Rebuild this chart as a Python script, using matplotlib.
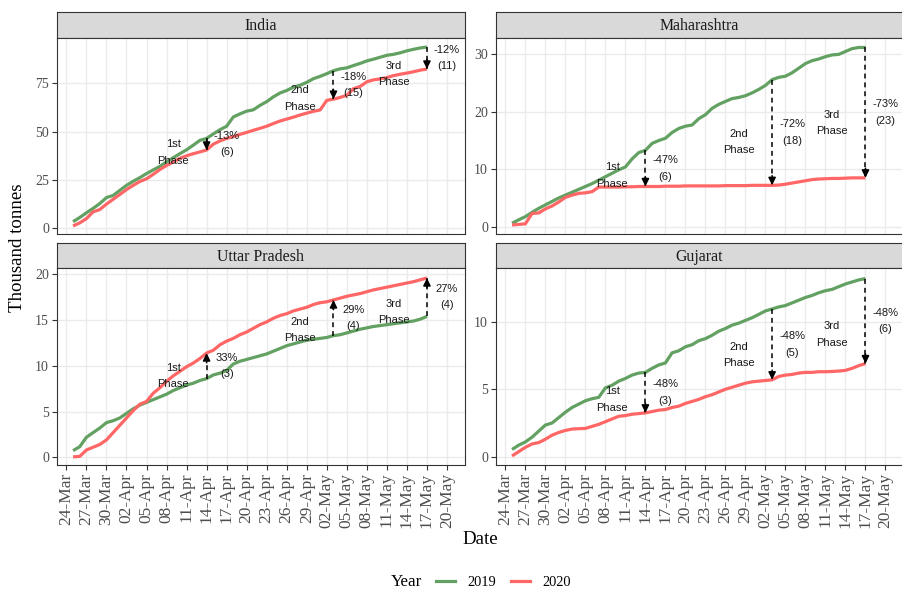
import matplotlib
matplotlib.use("Agg")
import matplotlib.pyplot as plt
import matplotlib.dates as mdates
from matplotlib.ticker import MultipleLocator
import numpy as np
import pandas as pd

# ---------------------------------------------------------------- data
dates = pd.date_range("2020-03-25", "2020-05-17", freq="D")

india_2019 = [3.4, 5.6, 8.0, 10.3, 12.8, 15.9, 17.0, 19.6, 22.2, 24.3,
              26.2, 28.3, 30.2, 32.0, 34.4, 36.5, 38.6, 40.6, 43.0, 45.5,
              46.5, 48.8, 51.0, 52.8, 57.6, 59.2, 60.6, 61.3, 63.6, 65.5,
              68.0, 70.0, 71.3, 73.0, 74.0, 75.5, 77.4, 78.6, 80.0, 81.5,
              82.5, 83.0, 84.2, 85.3, 86.6, 87.5, 88.5, 89.5, 90.0, 90.8,
              91.8, 92.6, 93.3, 93.8]
india_2020 = [1.2, 2.8, 5.0, 8.5, 9.7, 12.5, 15.0, 17.5, 20.0, 22.2,
              24.2, 25.6, 27.9, 30.4, 32.5, 34.3, 36.2, 37.5, 38.6, 39.5,
              40.5, 43.5, 45.2, 46.5, 47.4, 48.6, 49.6, 50.7, 51.7, 52.8,
              54.2, 55.5, 56.5, 57.5, 58.6, 59.6, 60.5, 61.2, 66.2, 66.8,
              67.7, 68.8, 72.2, 73.4, 75.8, 76.8, 77.3, 78.0, 79.0, 79.7,
              80.3, 81.0, 81.8, 82.4]

maha_2019 = [0.6, 1.2, 1.75, 2.5, 3.2, 3.8, 4.4, 5.0, 5.5, 6.0,
             6.5, 7.0, 7.5, 8.1, 8.7, 9.3, 9.9, 10.4, 11.8, 12.9,
             13.3, 14.5, 15.0, 15.4, 16.4, 17.1, 17.5, 17.7, 18.8, 19.5,
             20.6, 21.3, 21.8, 22.3, 22.5, 22.8, 23.3, 23.9, 24.6, 25.6,
             26.0, 26.2, 26.8, 27.6, 28.4, 28.9, 29.2, 29.6, 29.9, 30.0,
             30.5, 31.0, 31.2, 31.2]
maha_2020 = [0.3, 0.4, 0.5, 2.3, 2.4, 3.1, 3.6, 4.3, 5.1, 5.5,
             5.8, 5.9, 6.1, 6.9, 6.9, 6.9, 6.9, 6.95, 6.95, 7.0,
             7.0, 7.0, 7.0, 7.05, 7.05, 7.05, 7.1, 7.1, 7.1, 7.1,
             7.1, 7.1, 7.15, 7.15, 7.15, 7.15, 7.2, 7.2, 7.2, 7.2,
             7.25, 7.4, 7.6, 7.8, 8.0, 8.2, 8.3, 8.35, 8.4, 8.4,
             8.45, 8.5, 8.5, 8.5]

up_2019 = [0.73, 1.16, 2.19, 2.7, 3.2, 3.79, 4.0, 4.3, 4.8, 5.3,
           5.7, 6.0, 6.3, 6.6, 6.9, 7.3, 7.6, 7.9, 8.1, 8.4,
           8.6, 9.0, 9.2, 9.5, 10.2, 10.5, 10.7, 10.9, 11.1, 11.3,
           11.6, 11.9, 12.2, 12.4, 12.6, 12.8, 12.9, 13.0, 13.1, 13.3,
           13.4, 13.6, 13.8, 14.0, 14.15, 14.3, 14.4, 14.5, 14.6, 14.7,
           14.8, 14.9, 15.1, 15.4]
up_2020 = [0.05, 0.1, 0.8, 1.1, 1.4, 1.9, 2.7, 3.5, 4.3, 5.1,
           5.8, 6.1, 7.0, 7.6, 8.3, 8.9, 9.4, 9.9, 10.3, 10.8,
           11.4, 11.7, 12.3, 12.7, 13.0, 13.4, 13.7, 14.1, 14.5, 14.8,
           15.2, 15.5, 15.7, 16.0, 16.2, 16.4, 16.7, 16.9, 17.0, 17.2,
           17.4, 17.6, 17.75, 17.9, 18.1, 18.3, 18.45, 18.6, 18.75, 18.9,
           19.05, 19.2, 19.4, 19.6]

guj_2019 = [0.54, 0.86, 1.1, 1.45, 1.9, 2.35, 2.5, 2.9, 3.3, 3.65,
            3.9, 4.15, 4.3, 4.4, 5.1, 5.3, 5.6, 5.8, 6.05, 6.2,
            6.25, 6.55, 6.8, 6.95, 7.7, 7.85, 8.15, 8.3, 8.6, 8.75,
            9.0, 9.3, 9.5, 9.75, 9.9, 10.1, 10.3, 10.55, 10.8, 10.95,
            11.1, 11.2, 11.4, 11.6, 11.8, 11.95, 12.15, 12.3, 12.4, 12.6,
            12.8, 12.95, 13.1, 13.2]
guj_2020 = [0.06, 0.38, 0.7, 0.95, 1.05, 1.3, 1.6, 1.8, 1.95, 2.05,
            2.08, 2.1, 2.25, 2.4, 2.6, 2.8, 3.0, 3.05, 3.15, 3.2,
            3.25, 3.35, 3.45, 3.5, 3.65, 3.75, 3.95, 4.1, 4.25, 4.45,
            4.6, 4.8, 5.0, 5.15, 5.3, 5.45, 5.55, 5.6, 5.65, 5.7,
            5.95, 6.05, 6.1, 6.2, 6.25, 6.25, 6.3, 6.3, 6.32, 6.35,
            6.4, 6.55, 6.75, 6.9]

states = ["India", "Maharashtra", "Uttar Pradesh", "Gujarat"]
series_2019 = [india_2019, maha_2019, up_2019, guj_2019]
series_2020 = [india_2020, maha_2020, up_2020, guj_2020]

# end of each lockdown phase
phase_ends = pd.to_datetime(["2020-04-14", "2020-05-03", "2020-05-17"])
phase_names = ["1st\nPhase", "2nd\nPhase", "3rd\nPhase"]
phase_label_y = [[39.3, 67.1, 79.9],
                 [8.9, 14.7, 18.0],
                 [8.9, 13.9, 15.9],
                 [4.24, 7.53, 9.07]]

tick_dates = pd.date_range("2020-03-24", "2020-05-20", freq="3D")

# ---------------------------------------------------------------- style
W, H = 903, 592
COL_2019 = "#62A162"
COL_2020 = "#FF6666"
SERIF = "Liberation Serif"
SANS = "Liberation Sans"
DARK = "#333333"

fig = plt.figure(figsize=(W / 100, H / 100), dpi=100)


def px_axes(x0, y0, x1, y1):
    return fig.add_axes([x0 / W, 1 - y1 / H, (x1 - x0) / W, (y1 - y0) / H])


cols = [(56.7, 465.0), (495.7, 903.5)]
rows = [((12.0, 37.7), (37.7, 234.0)), ((242.7, 268.3), (268.3, 465.0))]
ylims = [(-2.95, 98.6), (-1.27, 32.9), (-0.84, 20.66), (-0.61, 13.96)]
ysteps = [25, 10, 5, 5]

xnum = mdates.date2num(dates.to_pydatetime())
d0 = mdates.date2num(pd.Timestamp("2020-03-24").to_pydatetime())

for i, state in enumerate(states):
    r, c = divmod(i, 2)
    (sy0, sy1), (py0, py1) = rows[r]
    x0, x1 = cols[c]

    # facet strip
    sax = px_axes(x0, sy0, x1, sy1)
    sax.set_facecolor("#D9D9D9")
    sax.set_xticks([])
    sax.set_yticks([])
    for sp in sax.spines.values():
        sp.set_color(DARK)
        sp.set_linewidth(0.8)
    sax.text(0.5, 0.45, state, transform=sax.transAxes, ha="center",
             va="center", fontsize=11.4, family=SERIF, color="#1A1A1A")

    ax = px_axes(x0, py0, x1, py1)
    g = np.array(series_2019[i])
    rd = np.array(series_2020[i])
    ax.plot(xnum, g, color=COL_2019, lw=2.3, solid_capstyle="butt", zorder=3)
    ax.plot(xnum, rd, color=COL_2020, lw=2.3, solid_capstyle="butt", zorder=3)

    ax.set_xlim(d0 - 1.45, d0 + 59.7)
    ax.set_ylim(*ylims[i])
    ax.set_xticks(mdates.date2num(tick_dates.to_pydatetime()))
    ax.xaxis.set_major_formatter(mdates.DateFormatter("%d-%b"))
    ax.yaxis.set_major_locator(MultipleLocator(ysteps[i]))
    ax.grid(True, color="#EBEBEB", lw=1.0)
    ax.set_axisbelow(True)
    for sp in ax.spines.values():
        sp.set_color(DARK)
        sp.set_linewidth(0.8)
    ax.tick_params(axis="y", length=3.5, width=0.8, color=DARK, pad=2,
                   labelsize=10, labelcolor="#4D4D4D")
    for lab in ax.get_yticklabels():
        lab.set_family(SERIF)
    if r == 0:
        ax.tick_params(axis="x", length=0, labelbottom=False)
    else:
        ax.tick_params(axis="x", length=3.5, width=0.8, color=DARK, pad=2,
                       labelsize=12.5, labelcolor="#4D4D4D", labelrotation=90)
        for lab in ax.get_xticklabels():
            lab.set_family(SERIF)

    # change at the end of each lockdown phase
    for k, pe in enumerate(phase_ends):
        j = int(np.where(dates == pe)[0][0])
        xp = xnum[j]
        gv, rv = g[j], rd[j]
        ax.plot([xp, xp], [gv, rv], color="black", lw=1.1,
                ls=(0, (3.2, 2.6)), zorder=4)
        off = 7 if gv > rv else -7
        ax.annotate("", xy=(xp, rv), xytext=(0, off),
                    textcoords="offset points",
                    arrowprops=dict(arrowstyle="-|>,head_length=0.45,head_width=0.22",
                                    lw=1.1, color="black", shrinkA=0, shrinkB=0),
                    zorder=5)
        pct = int(round((rv / gv - 1) * 100))
        diff = int(round(abs(gv - rv)))
        ax.text(xp + 3, (gv + rv) / 2, f"{pct}%\n({diff})", ha="center",
                va="center", fontsize=8, family=SANS, linespacing=1.8,
                color="#1A1A1A", zorder=6)
        ax.text(xp - 5, phase_label_y[i][k], phase_names[k], ha="center",
                va="center", fontsize=8, family=SANS, linespacing=1.8,
                color="#1A1A1A", zorder=6)

fig.text(18 / W, 1 - 248 / H, "Thousand tonnes", rotation=90, ha="center",
         va="center", fontsize=13.6, family=SERIF)
fig.text(480 / W, 1 - 539 / H, "Date", ha="center", va="center",
         fontsize=13.6, family=SERIF)

# legend
LEG_Y = 582
fig.text(406.5 / W, 1 - LEG_Y / H, "Year", ha="center", va="center",
         fontsize=12.2, family=SERIF)
handles = [plt.Line2D([], [], color=COL_2019, lw=2.3),
           plt.Line2D([], [], color=COL_2020, lw=2.3)]
leg = fig.legend(handles, ["2019", "2020"], ncol=2, frameon=False,
                 loc="center left", bbox_to_anchor=(436 / W, 1 - LEG_Y / H),
                 borderpad=0, borderaxespad=0, handlelength=1.32,
                 handletextpad=0.88, columnspacing=0.97,
                 prop={"family": SERIF, "size": 10.4})

fig.savefig("out.png", dpi=100)
